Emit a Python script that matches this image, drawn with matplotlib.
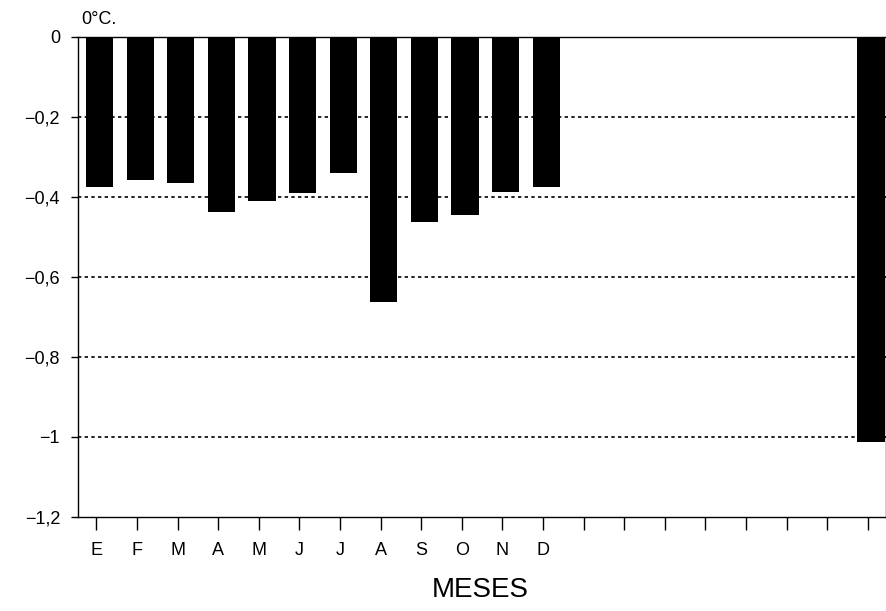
import numpy as np
import matplotlib.pyplot as plt

months = ['E', 'F', 'M', 'A', 'M', 'J', 'J', 'A', 'S', 'O', 'N', 'D']
month_vals = [-0.375, -0.358, -0.365, -0.438, -0.41, -0.39, -0.34,
              -0.662, -0.464, -0.445, -0.388, -0.375]
annual_val = -1.012
n_slots = 20
yticks = [0, -0.2, -0.4, -0.6, -0.8, -1.0, -1.2]
ytick_labels = ['0', '\u22120,2', '\u22120,4', '\u22120,6', '\u22120,8', '\u22121', '\u22121,2']

plt.rcParams['font.family'] = ['Liberation Sans', 'DejaVu Sans']

fig = plt.figure(figsize=(8.87, 6.11), dpi=100)
ax = fig.add_axes([0.088, 0.154, 0.911, 0.786])

# bars sit a little right of their ticks in the original
shift = 0.08
x = np.arange(len(months)) + shift
ax.bar(x, month_vals, width=0.67, color='black', zorder=3)
ax.bar([n_slots - 1 + shift], [annual_val], width=0.67, color='black', zorder=3)

for y in yticks[1:-1]:
    ax.axhline(y, color='black', linestyle=(0, (2, 2)), linewidth=1.2, zorder=1)

ax.set_xlim(-0.45, n_slots - 0.55)
ax.set_ylim(-1.2, 0)
ax.set_yticks(yticks)
ax.set_yticklabels(ytick_labels, fontsize=13)
ax.set_xticks(np.arange(n_slots))
ax.set_xticklabels(months + [''] * (n_slots - len(months)), fontsize=13)
ax.tick_params(axis='x', length=9, pad=9, width=1)
ax.tick_params(axis='y', length=5, pad=8, width=1)
for s in ax.spines.values():
    s.set_linewidth(1)

fig.text(0.092, 0.968, '0\u00b0C.', fontsize=13, ha='left', va='center')
fig.text(0.541, 0.034, 'MESES', fontsize=20, ha='center', va='center')

fig.savefig('out.png', dpi=100)
